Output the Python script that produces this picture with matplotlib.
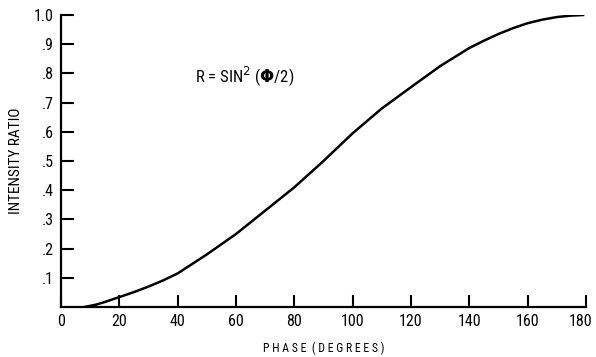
import matplotlib
matplotlib.use("Agg")
import matplotlib.pyplot as plt
from matplotlib import font_manager
from matplotlib.transforms import ScaledTranslation

phase_deg = [8, 12, 15, 20, 25, 30, 35, 40, 50, 60, 70, 80, 90, 100, 110, 120, 130, 140,
             145, 150, 155, 160, 165, 170, 175, 179]
intensity = [0.0, 0.008, 0.017, 0.034, 0.051, 0.07, 0.091, 0.115, 0.18, 0.25, 0.33, 0.41,
             0.50, 0.595, 0.68, 0.753, 0.825, 0.887, 0.912, 0.935, 0.955, 0.972, 0.984,
             0.993, 0.998, 1.0]
x_ticks = [0, 20, 40, 60, 80, 100, 120, 140, 160, 180]
y_ticks = [0.1, 0.2, 0.3, 0.4, 0.5, 0.6, 0.7, 0.8, 0.9, 1.0]
y_tick_labels = [".1", ".2", ".3", ".4", ".5", ".6", ".7", ".8", ".9", "1.0"]

names = {f.name for f in font_manager.fontManager.ttflist}
narrow = None
for cand in ["Liberation Sans Narrow", "Roboto Condensed", "Open Sans Condensed", "DejaVu Sans Condensed"]:
    if cand in names:
        narrow = cand
        break
if narrow is None:
    narrow = "DejaVu Sans"
plt.rcParams["font.family"] = [narrow, "DejaVu Sans"]
stretch = "condensed"

fig = plt.figure(figsize=(5.96, 3.57), dpi=100)
ax = fig.add_axes([61 / 596, 1 - 307 / 357, 525 / 596, 292 / 357])
ax.plot(phase_deg, intensity, color="black", lw=1.8)
ax.set_xlim(0, 180)
ax.set_ylim(0, 1.0)
ax.spines["top"].set_visible(False)
ax.spines["right"].set_visible(False)
ax.spines["left"].set_linewidth(1.6)
ax.spines["bottom"].set_linewidth(1.6)
ax.set_xticks(x_ticks)
ax.set_xticklabels([str(v) for v in x_ticks], fontstretch=stretch)
ax.set_yticks(y_ticks)
ax.set_yticklabels(y_tick_labels, fontstretch=stretch)
ax.tick_params(direction="in", length=9, width=1.5, labelsize=11.5, pad=5, colors="black")
last = ax.get_xticklabels()[-1]
last.set_transform(last.get_transform() + ScaledTranslation(-5 / 100, 0, fig.dpi_scale_trans))
ax.set_xlabel("P H A S E  ( D E G R E E S )", fontsize=8.5, labelpad=9)
ax.set_ylabel("INTENSITY RATIO", fontsize=11, labelpad=8)
ax.text(46, 0.79, r"R = SIN$^2$ ($\mathbf{\Phi}$/2)", fontsize=12, va="center", ha="left")
fig.savefig("out.png", dpi=100)
